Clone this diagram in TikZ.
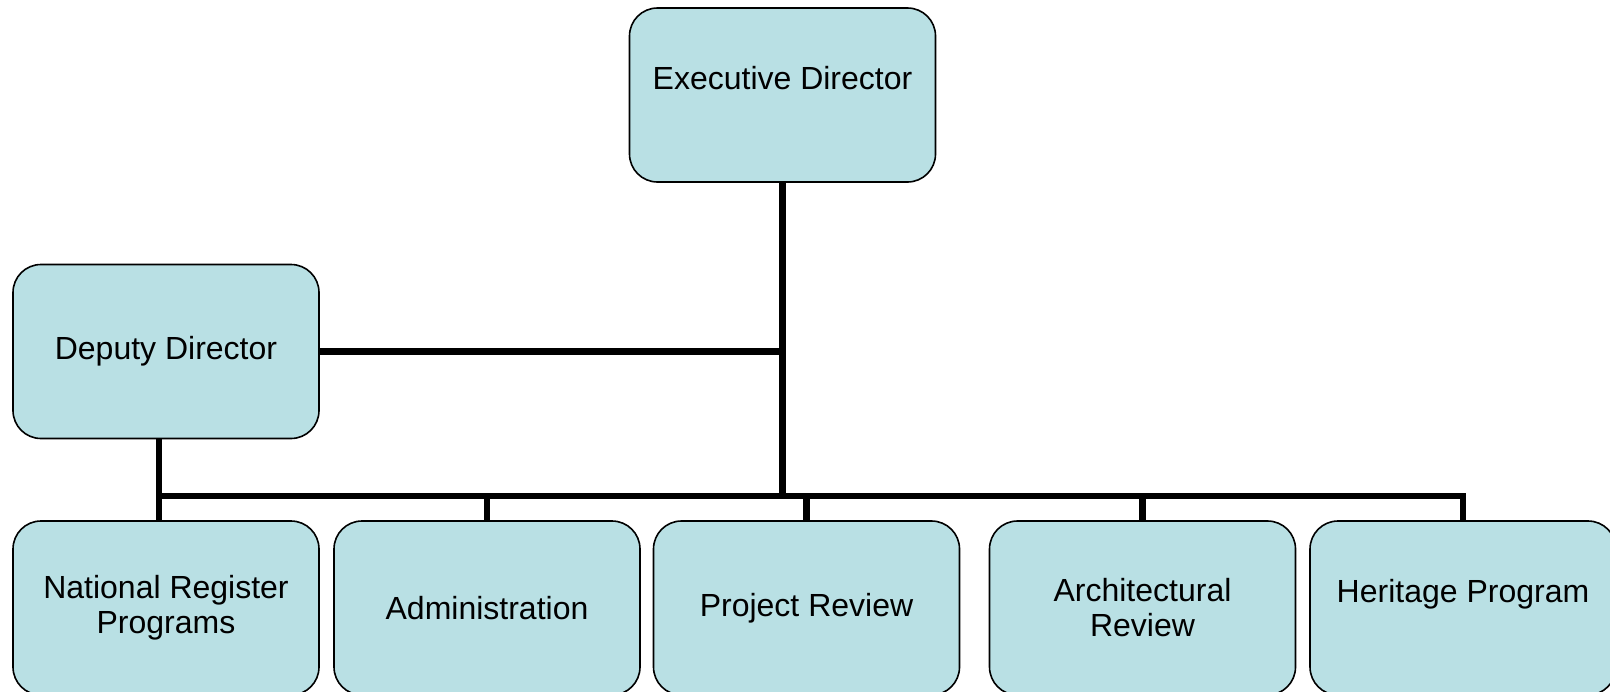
\documentclass[tikz,border=0pt]{standalone}
\usepackage{fontspec}
\setmainfont{Liberation Sans}
\definecolor{boxfill}{RGB}{185,224,228}
\begin{document}
\begin{tikzpicture}
    [x=0.5pt,y=-0.5pt,
     unit/.style={shape=rectangle,rounded corners=14pt,draw=black,line width=0.8pt,
       fill=boxfill,minimum width=153pt,minimum height=87pt,inner sep=0pt,
       align=center,font=\fontsize{16}{17.5}\selectfont},
     wire/.style={line width=3.2pt}]
    \useasboundingbox (0,0) rectangle (1610,691);
    \coordinate (bus) at (0,496);
    \node [unit] (exec) at (782.5,95) {Executive Director\\\mbox{}};
    \node [unit] (dep) at (166,351.5) {Deputy Director};
    \node [unit] (nrp) at (166,608) {National Register\\Programs};
    \node [unit] (adm) at (487,608) {Administration};
    \node [unit] (prj) at (806.5,608) {Project Review};
    \node [unit] (arc) at (1142.5,608) {Architectural\\Review};
    \node [unit] (her) at (1463,608) {Heritage Program\\\mbox{}};
    \draw [wire] (exec.south) -- (exec.south |- bus);
    \draw [wire] (dep.east) -- (dep.east -| exec.south);
    \draw [wire] ([xshift=-3.5pt]dep.south) -- ([xshift=-3.5pt]nrp.north |- bus);
    \draw [wire] ([xshift=-3.5pt]nrp.north |- bus) -- ([xshift=-3.5pt]nrp.north);
    \draw [wire] ([xshift=-3.5pt]nrp.north |- bus) -| (her.north);
    \foreach \n in {adm,prj,arc}
      \draw [wire] (\n.north |- bus) -- (\n.north);
\end{tikzpicture}
\end{document}
